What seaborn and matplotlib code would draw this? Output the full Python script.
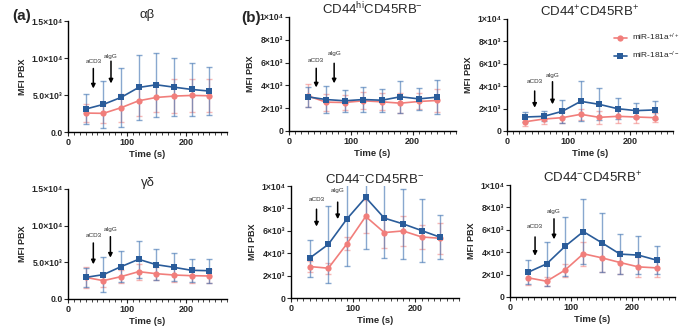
import numpy as np
import pandas as pd
import matplotlib
matplotlib.use('Agg')
import matplotlib.pyplot as plt
from matplotlib.ticker import MultipleLocator, FixedLocator, FixedFormatter
import seaborn as sns

sns.set_style('ticks')
plt.rcParams['font.family'] = ['Liberation Sans', 'DejaVu Sans']
plt.rcParams['mathtext.fontset'] = 'custom'
plt.rcParams['mathtext.rm'] = 'Liberation Sans'
plt.rcParams['mathtext.it'] = 'Liberation Sans:italic'
plt.rcParams['mathtext.bf'] = 'Liberation Sans:bold'

# time points (s)
time = [30, 60, 90, 120, 150, 180, 210, 240]

# alpha-beta
ab_wt = [2560, 2520, 3280, 4220, 4670, 4850, 4940, 4900]
ab_wt_sd = [1250, 1300, 1900, 2000, 1900, 2250, 2200, 2200]
ab_ko = [3100, 3730, 4670, 6020, 6380, 6060, 5750, 5530]
ab_ko_sd = [2000, 3170, 3950, 4450, 4300, 3960, 3640, 3270]

# gamma-delta
gd_wt = [2950, 2500, 3050, 3730, 3450, 3270, 3180, 3140]
gd_wt_sd = [1450, 900, 900, 1100, 900, 1000, 1050, 1000]
gd_ko = [2950, 3320, 4410, 5410, 4680, 4320, 3910, 3860]
gd_ko_sd = [1320, 2400, 2140, 2500, 2090, 1910, 1590, 1640]

# CD44hi CD45RB-
hin_wt = [3090, 2530, 2500, 2650, 2560, 2440, 2590, 2680]
hin_wt_sd = [1000, 740, 700, 760, 740, 850, 700, 970]
hin_ko = [3000, 2760, 2650, 2760, 2700, 3000, 2820, 2970]
hin_ko_sd = [900, 1180, 940, 1060, 1000, 1380, 970, 1470]

# CD44+ CD45RB+
pp_wt = [830, 1070, 1190, 1490, 1220, 1310, 1250, 1190]
pp_wt_sd = [420, 480, 500, 500, 570, 570, 540, 420]
pp_ko = [1250, 1310, 1760, 2650, 2380, 1990, 1820, 1880]
pp_ko_sd = [420, 450, 1040, 1790, 1430, 950, 680, 770]

# CD44- CD45RB-
nn_wt = [2810, 2660, 4850, 7280, 5840, 5990, 5450, 5330]
nn_wt_sd = [480, 480, 600, 1500, 1380, 1320, 1050, 1400]
nn_ko = [3560, 4790, 7070, 8980, 7130, 6620, 6020, 5420]
nn_ko_sd = [1650, 3410, 4250, 4580, 3590, 3110, 2840, 1950]

# CD44- CD45RB+
np_wt = [1710, 1410, 2400, 3860, 3500, 3080, 2690, 2600]
np_wt_sd = [630, 400, 570, 1050, 1230, 1050, 900, 800]
np_ko = [2220, 2960, 4520, 5840, 4850, 3830, 3740, 3290]
np_ko_sd = [1050, 1950, 2630, 2930, 2660, 1770, 1710, 1260]

wt_label = r'miR-181a$^{+/+}$'
ko_label = r'miR-181a$^{-/-}$'
pink = '#F17E7B'
blue = '#2A5C9A'

ticks_big = [0, 5000, 10000, 15000]
labels_big = ['0.0', '5.0×10³', '1.0×10⁴', '1.5×10⁴']
ticks_small = [0, 2000, 4000, 6000, 8000, 10000]
labels_small = ['0', '2×10³', '4×10³', '6×10³', '8×10³', '1×10⁴']

W, H = 684, 332
fig = plt.figure(figsize=(W / 100, H / 100), dpi=100)

def rect(left, top, right, bottom):
    return [left / W, 1 - bottom / H, (right - left) / W, (bottom - top) / H]

panels = [
    dict(r=rect(68, 21, 227, 132), title='αβ', wt=ab_wt, wsd=ab_wt_sd, ko=ab_ko, ksd=ab_ko_sd,
         big=True, arrows=[(43, 8580, 5880, 9570), (73, 9570, 6560, 10240)]),
    dict(r=rect(68, 189, 227, 299), title='γδ', wt=gd_wt, wsd=gd_wt_sd, ko=gd_ko, ksd=gd_ko_sd,
         big=True, arrows=[(43, 7640, 4730, 8640), (72, 8500, 5640, 9410)]),
    dict(r=rect(289, 17, 456, 131), title=r'CD44$^{\mathrm{hi}}$CD45RB$^{-}$', wt=hin_wt, wsd=hin_wt_sd,
         ko=hin_ko, ksd=hin_ko_sd, big=False, arrows=[(44, 5500, 3820, 6150), (73, 5940, 4180, 6820)]),
    dict(r=rect(291, 186, 459, 298), title=r'CD44$^{-}$CD45RB$^{-}$', wt=nn_wt, wsd=nn_wt_sd,
         ko=nn_ko, ksd=nn_ko_sd, big=False, arrows=[(41, 7930, 6380, 8830), (75, 8560, 7040, 9580)]),
    dict(r=rect(507, 19, 673, 131), title=r'CD44$^{+}$CD45RB$^{+}$', wt=pp_wt, wsd=pp_wt_sd,
         ko=pp_ko, ksd=pp_ko_sd, big=False, arrows=[(45, 3570, 2080, 4400), (74, 4400, 2380, 4970)],
         legend=True),
    dict(r=rect(510, 185, 675, 297), title=r'CD44$^{-}$CD45RB$^{+}$', wt=np_wt, wsd=np_wt_sd,
         ko=np_ko, ksd=np_ko_sd, big=False, arrows=[(41, 5360, 3680, 6260), (72, 6980, 5150, 7660)]),
]

for p in panels:
    ax = fig.add_axes(p['r'])
    df = pd.DataFrame({
        'Time (s)': time * 2,
        'MFI PBX': p['wt'] + p['ko'],
        'genotype': [wt_label] * len(time) + [ko_label] * len(time),
    })
    ax.errorbar(time, p['wt'], yerr=p['wsd'], fmt='none', ecolor=pink, alpha=0.55,
                elinewidth=1, capsize=2.2, capthick=1, zorder=2)
    ax.errorbar(time, p['ko'], yerr=p['ksd'], fmt='none', ecolor='#3B6FB0', alpha=0.6,
                elinewidth=1, capsize=2.2, capthick=1, zorder=2)
    sns.lineplot(data=df, x='Time (s)', y='MFI PBX', hue='genotype', style='genotype',
                 palette={wt_label: pink, ko_label: blue},
                 markers={wt_label: 'o', ko_label: 's'}, dashes=False,
                 markersize=4.5, markeredgewidth=0, linewidth=1.2, errorbar=None,
                 legend=bool(p.get('legend')), ax=ax, zorder=3)

    ax.set_xlim(0, 270)
    if p['big']:
        ax.set_ylim(0, 15000)
        ax.yaxis.set_major_locator(FixedLocator(ticks_big))
        ax.yaxis.set_major_formatter(FixedFormatter(labels_big))
    else:
        ax.set_ylim(0, 10000)
        ax.yaxis.set_major_locator(FixedLocator(ticks_small))
        ax.yaxis.set_major_formatter(FixedFormatter(labels_small))
    ax.xaxis.set_major_locator(MultipleLocator(100))
    ax.xaxis.set_minor_locator(MultipleLocator(10))
    for s in ['top', 'right']:
        ax.spines[s].set_visible(False)
    for s in ['left', 'bottom']:
        ax.spines[s].set_linewidth(1)
        ax.spines[s].set_color('black')
    ax.tick_params(axis='y', labelsize=6.2, length=3, width=0.8, pad=1)
    ax.tick_params(axis='x', labelsize=6.5, length=3, width=0.8, pad=1.5)
    ax.tick_params(axis='x', which='minor', length=2, width=0.6)
    for lab in ax.get_xticklabels() + ax.get_yticklabels():
        lab.set_fontweight('bold')
    ax.set_xlabel('Time (s)', fontsize=6.8, fontweight='bold', labelpad=2)
    ax.set_ylabel('MFI PBX', fontsize=6.5, fontweight='bold', labelpad=3)
    ax.set_title(p['title'], fontsize=9.5, pad=1)

    (x1, a1, b1, t1), (x2, a2, b2, t2) = p['arrows']
    for x, a, b, t, txt in [(x1, a1, b1, t1, 'aCD3'), (x2, a2, b2, t2, 'aIgG')]:
        ax.annotate('', xy=(x, b), xytext=(x, a),
                    arrowprops=dict(arrowstyle='-|>', lw=1.1, color='black', mutation_scale=6,
                                    shrinkA=0, shrinkB=0))
        ax.text(x, t, txt, fontsize=4.6, color='#333333', ha='center', va='center')

    if p.get('legend'):
        ax.legend(loc='upper left', bbox_to_anchor=(0.6, 0.95), frameon=False, fontsize=6,
                  handlelength=1.5, handletextpad=0.6, labelspacing=0.8, title=None)

fig.text(12 / W, 1 - 16 / H, '(a)', fontsize=11, fontweight='bold', va='center', ha='left')
fig.text(241 / W, 1 - 18 / H, '(b)', fontsize=11, fontweight='bold', va='center', ha='left')

fig.savefig('out.png', dpi=100)
